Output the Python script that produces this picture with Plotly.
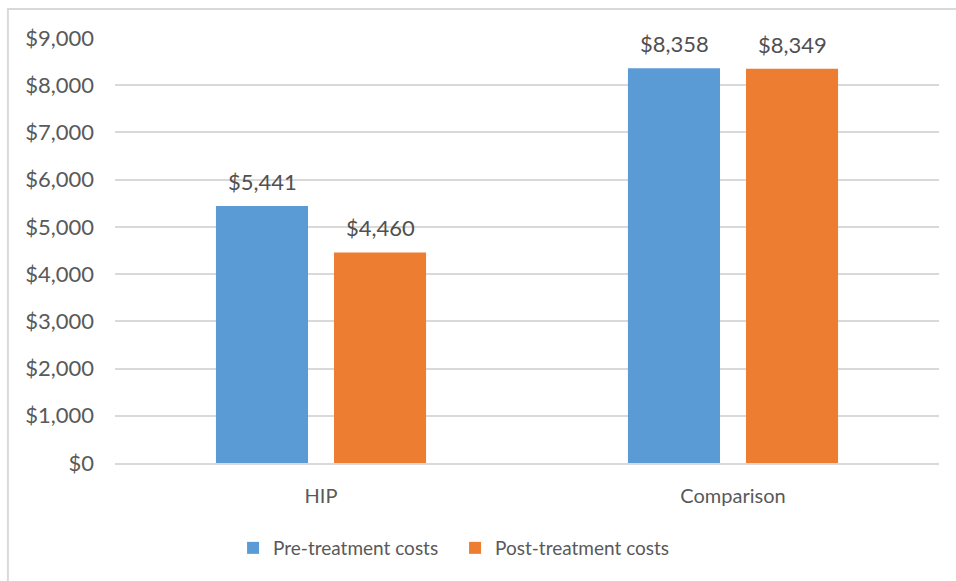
import plotly.graph_objects as go

categories = ["HIP", "Comparison"]
pre_costs = [5441, 8358]
post_costs = [4460, 8349]
series_names = ["Pre-treatment costs", "Post-treatment costs"]
y_ticks = [0, 1000, 2000, 3000, 4000, 5000, 6000, 7000, 8000, 9000]

colors = ["#5B9BD5", "#ED7D31"]
font_family = "Lato, 'Open Sans', sans-serif"
text_color = "#595959"

fig = go.Figure()
for name, vals, col in zip(series_names, [pre_costs, post_costs], colors):
    fig.add_trace(go.Bar(
        x=categories, y=vals, name=name, marker=dict(color=col, line=dict(width=0)),
        hoverinfo="skip",
    ))

annotations = []
for vals, shift in zip([pre_costs, post_costs], [-59, 59]):
    for c, v in zip(categories, vals):
        annotations.append(dict(
            x=c, y=v, xref="x", yref="y", text=f"${v:,}", showarrow=False,
            xshift=shift, yshift=9, yanchor="bottom",
            font=dict(family=font_family, size=22, color="#505050"),
        ))

fig.update_layout(
    width=956, height=581,
    margin=dict(l=115, r=17, t=38, b=118),
    paper_bgcolor="white", plot_bgcolor="white",
    barmode="group", bargap=0.427, bargroupgap=0.22,
    font=dict(family=font_family, size=20, color=text_color),
    showlegend=True,
    legend=dict(orientation="h", x=0.476, xref="container", xanchor="center",
                y=1 - 548 / 581, yref="container", yanchor="middle",
                font=dict(size=19, color=text_color), itemwidth=30,
                entrywidth=177, tracegroupgap=0, itemsizing="constant"),
    annotations=annotations,
    shapes=[dict(type="rect", xref="paper", yref="paper",
                 x0=-0.13, x1=1.05, y0=-0.32, y1=1.068,
                 line=dict(color="#D9D9D9", width=2), layer="below")],
    hovermode=False,
)
fig.update_yaxes(range=[0, 9000], tickvals=y_ticks,
                 ticktext=[f"${t:,}" for t in y_ticks],
                 showgrid=True, gridcolor="#D9D9D9", gridwidth=1.5,
                 zeroline=False, showline=False, ticks="",
                 ticklabelstandoff=20, tickfont=dict(size=22, color=text_color))
fig.update_xaxes(showline=True, linecolor="#D9D9D9", linewidth=2, ticks="",
                 tickfont=dict(size=20, color=text_color), ticklabelstandoff=14)

fig.write_html("out.html")
